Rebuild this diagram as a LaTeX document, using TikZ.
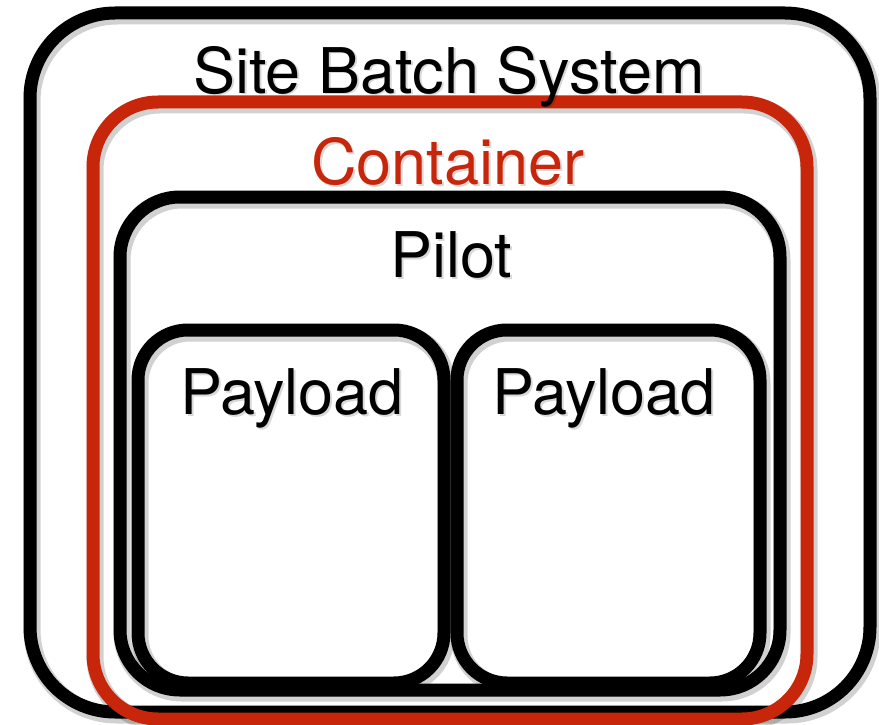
\documentclass[tikz,border=0pt]{standalone}
\usepackage{fontspec}
\setmainfont{TeX Gyre Heros}
\definecolor{contred}{RGB}{200,38,10}
\tikzset{
  boxline/.style={draw=black, line width=13pt, inner sep=0pt, outer sep=0pt, fill=none},
  boxshadow/.style={draw=black, draw opacity=0.18, line width=17pt, inner sep=0pt, outer sep=0pt},
  lbl/.style={anchor=base, inner sep=0pt, font=\fontsize{63}{70}\selectfont},
  lblshadow/.style={anchor=base, inner sep=0pt, font=\fontsize{63}{70}\selectfont, text=black, text opacity=0.15}
}
\begin{document}
\begin{tikzpicture}[x=1pt,y=-1pt]
\useasboundingbox (0,0) rectangle (879,725);
\fill[white] (0,0) rectangle (879,725);
% shadows
\node[boxshadow, rounded corners=85pt, minimum width=840pt, minimum height=699pt] at (452,365.5) {};
\node[boxshadow, rounded corners=65pt, minimum width=714pt, minimum height=617pt] at (452,413.5) {};
\node[boxshadow, rounded corners=60pt, minimum width=660pt, minimum height=493pt] at (452,446.5) {};
\node[boxshadow, rounded corners=50pt, minimum width=306pt, minimum height=353pt] at (293,509.5) {};
\node[boxshadow, rounded corners=50pt, minimum width=303pt, minimum height=353pt] at (610.5,509.5) {};
% boxes
\node[boxline, rounded corners=85pt, minimum width=840pt, minimum height=699pt] (site) at (450,362.5) {};
\node[boxline, draw=contred, rounded corners=65pt, minimum width=714pt, minimum height=617pt] (container) at (450,410.5) {};
\node[boxline, rounded corners=60pt, minimum width=660pt, minimum height=493pt] (pilot) at (450,443.5) {};
\node[boxline, rounded corners=50pt, minimum width=306pt, minimum height=353pt] (payA) at (291,506.5) {};
\node[boxline, rounded corners=50pt, minimum width=303pt, minimum height=353pt] (payB) at (608.5,506.5) {};
% label shadows
\node[lblshadow] at (451,95) {Site Batch System};
\node[lblshadow] at (450,186) {Container};
\node[lblshadow] at (453,279) {Pilot};
\node[lblshadow] at (294,416) {Payload};
\node[lblshadow] at (606,416) {Payload};
% labels
\node[lbl] (siteLbl) at (449,93) {Site Batch System};
\node[lbl, text=contred] (contLbl) at (448,184) {Container};
\node[lbl] (pilotLbl) at (451,277) {Pilot};
\node[lbl] (payALbl) at (292,414) {Payload};
\node[lbl] (payBLbl) at (604,414) {Payload};
\end{tikzpicture}
\end{document}
